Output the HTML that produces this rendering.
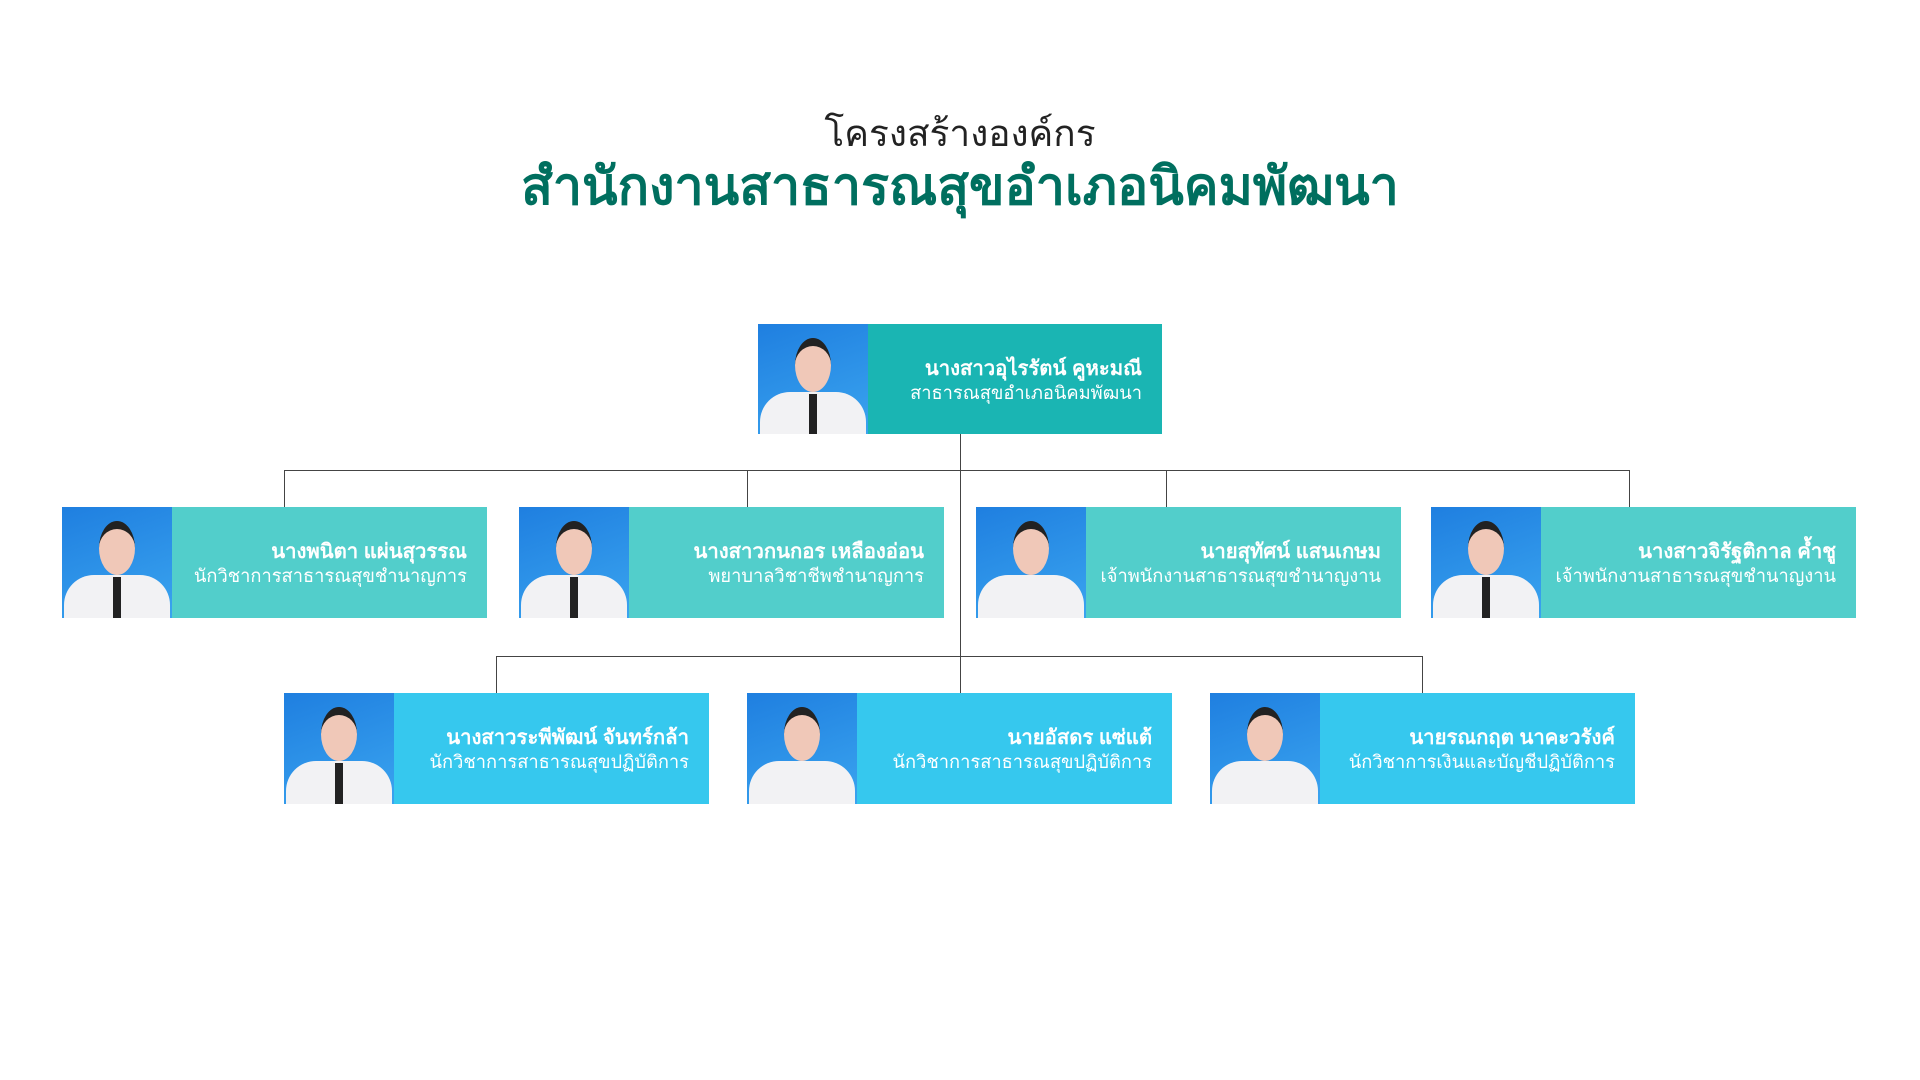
<!DOCTYPE html>
<html><head><meta charset="utf-8">
<style>
body{margin:0;width:1920px;height:1080px;background:#fff;position:relative;overflow:hidden;font-family:"Liberation Sans","DejaVu Sans",sans-serif}
.t1{position:absolute;left:0;width:1920px;top:104px;text-align:center;font-size:37px;color:#222}
.t2{position:absolute;left:0;width:1920px;top:144px;text-align:center;font-size:52px;font-weight:bold;color:#006f5f}
.box{position:absolute;height:111px;width:425px}
.ph{position:absolute;left:0;top:0;width:110px;height:100%;background:linear-gradient(160deg,#1f7fe0,#3aa4ef);overflow:hidden}
.ph .head{position:absolute;left:37px;top:14px;width:36px;height:46px;border-radius:50%;background:#f0c8b8;border-top:8px solid #222}
.ph .body{position:absolute;left:2px;top:68px;width:106px;height:60px;border-radius:30px 30px 0 0;background:#f2f2f4}
.ph .tie{position:absolute;left:51px;top:70px;width:8px;height:45px;background:#222}
.tx{position:absolute;right:20px;top:33px;text-align:right;color:#fff;line-height:24px;white-space:nowrap}
.tx b{font-size:20.3px;display:block}
.tx span{font-size:18.3px}
.ln{position:absolute;background:#444}
</style></head><body>
<div class="t1">โครงสร้างองค์กร</div>
<div class="t2">สำนักงานสาธารณสุขอำเภอนิคมพัฒนา</div>

<div class="ln" style="left:960px;top:434px;width:1px;height:259px"></div>
<div class="ln" style="left:284px;top:470px;width:1346px;height:1px"></div>
<div class="ln" style="left:284px;top:470px;width:1px;height:37px"></div>
<div class="ln" style="left:747px;top:470px;width:1px;height:37px"></div>
<div class="ln" style="left:1166px;top:470px;width:1px;height:37px"></div>
<div class="ln" style="left:1629px;top:470px;width:1px;height:37px"></div>
<div class="ln" style="left:496px;top:656px;width:927px;height:1px"></div>
<div class="ln" style="left:496px;top:656px;width:1px;height:37px"></div>
<div class="ln" style="left:1422px;top:656px;width:1px;height:37px"></div>

<div class="box" style="left:758px;top:324px;width:404px;height:110px;background:#1ab5b3"><div class="ph"><div class="body"></div><div class="head"></div><div class="tie"></div></div><div class="tx"><b>นางสาวอุไรรัตน์ คูหะมณี</b><span>สาธารณสุขอำเภอนิคมพัฒนา</span></div></div>

<div class="box" style="left:62px;top:507px;background:#52cecb"><div class="ph"><div class="body"></div><div class="head"></div><div class="tie"></div></div><div class="tx"><b>นางพนิตา แผ่นสุวรรณ</b><span>นักวิชาการสาธารณสุขชำนาญการ</span></div></div>
<div class="box" style="left:519px;top:507px;background:#52cecb"><div class="ph"><div class="body"></div><div class="head"></div><div class="tie"></div></div><div class="tx"><b>นางสาวกนกอร เหลืองอ่อน</b><span>พยาบาลวิชาชีพชำนาญการ</span></div></div>
<div class="box" style="left:976px;top:507px;background:#52cecb"><div class="ph"><div class="body"></div><div class="head"></div></div><div class="tx"><b>นายสุทัศน์ แสนเกษม</b><span>เจ้าพนักงานสาธารณสุขชำนาญงาน</span></div></div>
<div class="box" style="left:1431px;top:507px;background:#52cecb"><div class="ph"><div class="body"></div><div class="head"></div><div class="tie"></div></div><div class="tx"><b>นางสาวจิรัฐติกาล ค้ำชู</b><span>เจ้าพนักงานสาธารณสุขชำนาญงาน</span></div></div>

<div class="box" style="left:284px;top:693px;background:#36c8ee"><div class="ph"><div class="body"></div><div class="head"></div><div class="tie"></div></div><div class="tx"><b>นางสาวระพีพัฒน์ จันทร์กล้า</b><span>นักวิชาการสาธารณสุขปฏิบัติการ</span></div></div>
<div class="box" style="left:747px;top:693px;background:#36c8ee"><div class="ph"><div class="body"></div><div class="head"></div></div><div class="tx"><b>นายอัสดร แซ่แต้</b><span>นักวิชาการสาธารณสุขปฏิบัติการ</span></div></div>
<div class="box" style="left:1210px;top:693px;background:#36c8ee"><div class="ph"><div class="body"></div><div class="head"></div></div><div class="tx"><b>นายรณกฤต นาคะวรังค์</b><span>นักวิชาการเงินและบัญชีปฏิบัติการ</span></div></div>
</body></html>
